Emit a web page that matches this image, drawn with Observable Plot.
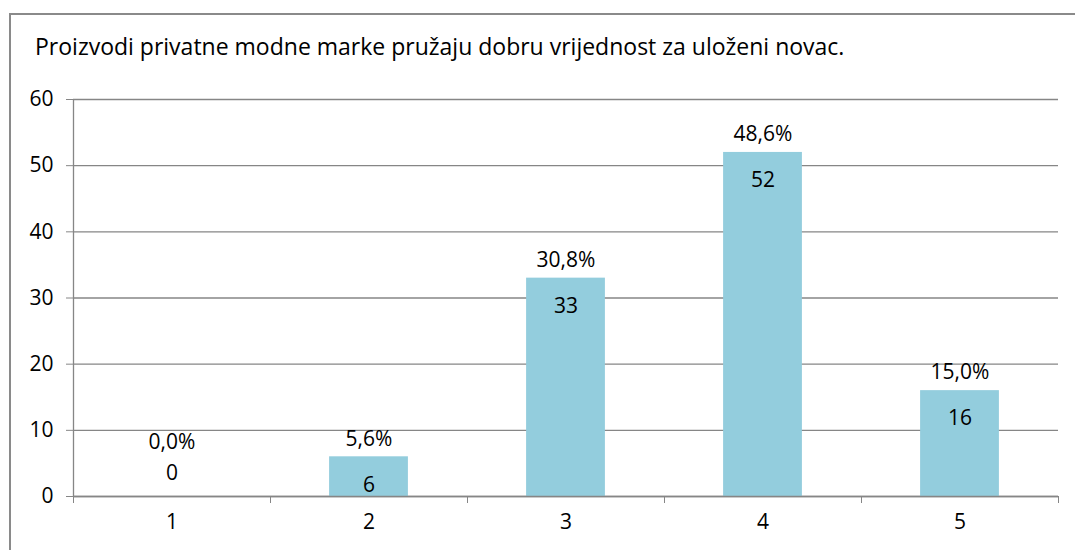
<!DOCTYPE html>
<html><head><meta charset="utf-8">
<script src="https://cdn.jsdelivr.net/npm/d3@7"></script>
<script src="https://cdn.jsdelivr.net/npm/@observablehq/plot@0.6"></script>
<style>
body{margin:0;background:#fff;font-family:"Open Sans",sans-serif;overflow:hidden;}
#frame{position:absolute;left:9px;top:13px;width:1100px;height:600px;border:2px solid #8a8a8a;box-sizing:border-box;}
#title{position:absolute;left:35px;top:35px;font-size:23px;line-height:1;color:#000;white-space:nowrap;}
#chart{position:absolute;left:0;top:0;}
</style></head><body>
<div id="frame"></div>
<div id="title"></div>
<div id="chart"></div>
<script>
const title = "Proizvodi privatne modne marke pružaju dobru vrijednost za uloženi novac.";
const categories = [1, 2, 3, 4, 5];
const counts = [0, 6, 33, 52, 16];
const percents = [0.0, 5.6, 30.8, 48.6, 15.0];
const yTicks = [0, 10, 20, 30, 40, 50, 60];

document.getElementById("title").textContent = title;

const data = categories.map((c, i) => ({cat: c, count: counts[i], pct: percents[i]}));
const boundaries = categories.map(c => c - 0.5).concat([categories[categories.length - 1] + 0.5]);
const fmtPct = p => p.toFixed(1).replace(".", ",") + "%";
const gray = "#868686";
const fs = 21;

const chart = Plot.plot({
  width: 1075,
  height: 550,
  marginLeft: 73,
  marginRight: 17,
  marginTop: 99,
  marginBottom: 54,
  style: {fontFamily: "'Open Sans', sans-serif", fontSize: fs + "px", color: "#000", background: "transparent"},
  x: {type: "linear", domain: [0.5, 5.5]},
  y: {domain: [0, 60]},
  marks: [
    Plot.gridY(yTicks, {stroke: gray, strokeOpacity: 1, strokeWidth: 1.3}),
    Plot.rectY(data, {x1: d => d.cat - 0.2, x2: d => d.cat + 0.2, y1: 0, y2: "count", fill: "#93CDDD"}),
    Plot.ruleY([0], {stroke: gray, strokeWidth: 1.3}),
    Plot.ruleX([0.5], {y1: 0, y2: 60, stroke: gray, strokeWidth: 1.3}),
    Plot.axisY({ticks: yTicks, tickSize: 7, tickPadding: 13, stroke: gray, fill: "#000", fontSize: fs, label: null}),
    Plot.axisX({ticks: boundaries, tickSize: 7, tickFormat: () => "", stroke: gray, label: null}),
    Plot.axisX({ticks: categories, tickSize: 0, tickPadding: 18, tickFormat: d => String(d), fill: "#000", fontSize: fs, label: null}),
    Plot.text(data.filter(d => d.count > 0), {x: "cat", y: "count", text: d => fmtPct(d.pct), dy: -18, fontSize: fs, fill: "#000"}),
    Plot.text(data.filter(d => d.count > 0), {x: "cat", y: "count", text: d => String(d.count), dy: 28, fontSize: fs, fill: "#000"}),
    Plot.text(data.filter(d => d.count === 0), {x: "cat", y: "count", text: d => fmtPct(d.pct), dy: -54, fontSize: fs, fill: "#000"}),
    Plot.text(data.filter(d => d.count === 0), {x: "cat", y: "count", text: d => String(d.count), dy: -23, fontSize: fs, fill: "#000"})
  ]
});
document.getElementById("chart").appendChild(chart);
</script>
</body></html>
